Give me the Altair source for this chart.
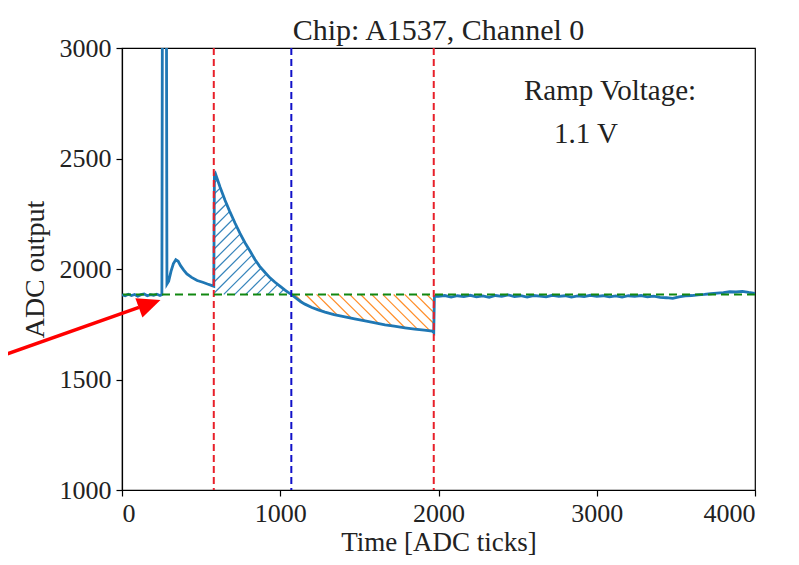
import altair as alt
import numpy as np
import pandas as pd

# ---------------- data ----------------
pre_t = [0, 20, 40, 60, 80, 100, 120, 140, 160, 180, 200, 220, 240, 252]
pre_v = [1883, 1879, 1886, 1880, 1885, 1877, 1884, 1887, 1879, 1884, 1881, 1886, 1880, 1884]

spike_t = [256, 280]
spike_v = [3500, 3500]

bump_t = [284, 295, 310, 325, 340, 355, 370, 390, 410, 440, 475, 510, 540, 565, 580]
bump_v = [1932, 1945, 1990, 2025, 2042, 2035, 2015, 1995, 1978, 1962, 1948, 1940, 1932, 1926, 1922]

decay1_t = [584, 590, 620, 651, 680, 714, 745, 777, 810, 840, 870, 904, 935, 967, 1000, 1030, 1050, 1070]
decay1_v = [2425, 2432, 2370, 2311, 2262, 2208, 2162, 2119, 2080, 2043, 2012, 1984, 1960, 1940, 1921, 1904, 1894, 1885]

decay2_t = [1100, 1130, 1156, 1200, 1240, 1283, 1340, 1409, 1470, 1536, 1600, 1662, 1720, 1788, 1850, 1910, 1960, 1970]
decay2_v = [1868, 1852, 1841, 1826, 1815, 1805, 1794, 1783, 1774, 1765, 1756, 1747, 1741, 1734, 1728, 1723, 1719, 1712]

flat_t = [1974, 2000, 2040, 2080, 2120, 2160, 2200, 2240, 2280, 2320, 2360, 2400, 2440, 2480, 2520,
          2560, 2600, 2640, 2680, 2720, 2760, 2800, 2840, 2880, 2920, 2960, 3000, 3040, 3080, 3120,
          3160, 3200, 3240, 3280, 3320, 3360, 3400, 3440, 3480, 3520, 3560, 3600, 3640, 3680, 3720,
          3760, 3800, 3840, 3880, 3920, 3960, 4000]
flat_v = [1876, 1876, 1880, 1873, 1879, 1875, 1881, 1874, 1878, 1872, 1880, 1876, 1883, 1875, 1879,
          1873, 1880, 1877, 1874, 1881, 1876, 1879, 1873, 1878, 1875, 1881, 1876, 1879, 1874, 1878,
          1873, 1879, 1876, 1880, 1874, 1877, 1872, 1870, 1867, 1874, 1878, 1880, 1883, 1885, 1888,
          1891, 1893, 1897, 1896, 1899, 1894, 1890]

baseline = 1885
markers_red = [580, 1970]
marker_blue = [1070]

title_text = "Chip: A1537, Channel 0"
x_title = "Time [ADC ticks]"
y_title = "ADC output"
x_ticks = [0, 1000, 2000, 3000, 4000]
y_ticks = [1000, 1500, 2000, 2500, 3000]

note_text = ["Ramp Voltage:", "1.1 V"]
note_t = [3084, 2932]
note_v = [2765, 2570]

arrow_shaft_t = [-800, 107]
arrow_shaft_v = [1597, 1826]
arrow_head_t = [175]
arrow_head_v = [1842]

# ---------------- tables ----------------
t = pre_t + spike_t + bump_t + decay1_t + decay2_t + flat_t
v = pre_v + spike_v + bump_v + decay1_v + decay2_v + flat_v
signal = pd.DataFrame({"t": t, "adc": v})

PLOT_W, PLOT_H = 633, 442

# hatch segments derived from the signal
SX = PLOT_W / 4000
SY = PLOT_H / 2000
K = SX / SY
spacing = 11 / SX
ta = np.array(t, float)
va = np.array(v, float)
segs = []

m = (ta >= 584) & (ta <= 1070)
g = np.linspace(584, 1070, 3000)
cg = np.interp(g, ta[m], va[m])
for xb in np.arange(584 - (2440 - baseline) / K, 1070, spacing):
    L = baseline + K * (g - xb)
    mk = (L >= baseline) & (L <= cg)
    if mk.sum() > 1:
        segs.append(dict(x=g[mk][0], y=L[mk][0], x2=g[mk][-1], y2=L[mk][-1], grp="pos"))

m = (ta >= 1070) & (ta <= 1970)
g = np.linspace(1070, 1970, 3000)
cg = np.interp(g, ta[m], va[m])
for xb in np.arange(1070 + spacing * 0.3, 1970, spacing):
    L = baseline - K * (g - xb)
    mk = (L <= baseline) & (L >= cg)
    if mk.sum() > 1:
        segs.append(dict(x=g[mk][0], y=L[mk][0], x2=g[mk][-1], y2=L[mk][-1], grp="neg"))
hatch = pd.DataFrame(segs)

FONT = "Liberation Serif"
xs = alt.Scale(domain=[0, 4000], nice=False, zero=False)
ys = alt.Scale(domain=[1000, 3000], nice=False, zero=False)
xa = alt.Axis(title=x_title, values=x_ticks, format="d", labelPadding=4,
              titleBaseline="alphabetic", titleY=60, titleFontSize=27)
ya = alt.Axis(title=y_title, values=y_ticks, format="d", labelPadding=5, titlePadding=10)

hatch_layer = alt.Chart(hatch).mark_rule(strokeWidth=1.2, opacity=0.9).encode(
    x=alt.X("x:Q", scale=xs, axis=xa),
    y=alt.Y("y:Q", scale=ys, axis=ya),
    x2="x2:Q", y2="y2:Q",
    color=alt.Color("grp:N", scale=alt.Scale(domain=["pos", "neg"], range=["#1f77b4", "#ff7f0e"]), legend=None),
)

line_layer = alt.Chart(signal).mark_line(color="#1f77b4", strokeWidth=2.8, clip=True).encode(
    x=alt.X("t:Q", scale=xs, axis=xa),
    y=alt.Y("adc:Q", scale=ys, axis=ya),
    order="t:Q",
)

red_layer = alt.Chart(pd.DataFrame({"t": markers_red})).mark_rule(
    color="#e8202a", strokeWidth=2, strokeDash=[7, 4]).encode(x=alt.X("t:Q", scale=xs, axis=xa))
blue_layer = alt.Chart(pd.DataFrame({"t": marker_blue})).mark_rule(
    color="#1010c8", strokeWidth=2, strokeDash=[7, 4]).encode(x=alt.X("t:Q", scale=xs, axis=xa))
green_layer = alt.Chart(pd.DataFrame({"b": [baseline]})).mark_rule(
    color="#118811", strokeWidth=2, strokeDash=[8, 5]).encode(y=alt.Y("b:Q", scale=ys, axis=ya))

text_layer = alt.Chart(pd.DataFrame({"t": note_t, "v": note_v, "s": note_text})).mark_text(
    font=FONT, fontSize=29, color="#222222", align="center", baseline="alphabetic").encode(
    x=alt.X("t:Q", scale=xs, axis=xa), y=alt.Y("v:Q", scale=ys, axis=ya), text="s:N")

shaft = pd.DataFrame({"t": [arrow_shaft_t[0]], "v": [arrow_shaft_v[0]],
                      "t2": [arrow_shaft_t[1]], "v2": [arrow_shaft_v[1]]})
arrow_layer = alt.Chart(shaft).mark_rule(color="#ff0000", strokeWidth=3.5).encode(
    x=alt.X("t:Q", scale=xs, axis=xa), y=alt.Y("v:Q", scale=ys, axis=ya), x2="t2:Q", y2="v2:Q")
head_layer = alt.Chart(pd.DataFrame({"t": arrow_head_t, "v": arrow_head_v})).mark_point(
    shape="M 1 0 L -1 0.9 L -1 -0.9 Z", size=529, filled=True, color="#ff0000",
    opacity=1, angle=340).encode(
    x=alt.X("t:Q", scale=xs, axis=xa), y=alt.Y("v:Q", scale=ys, axis=ya))

chart = alt.layer(
    hatch_layer, line_layer, red_layer, blue_layer, green_layer, text_layer, arrow_layer, head_layer
).properties(
    width=PLOT_W, height=PLOT_H,
    title=alt.Title(title_text, font=FONT, fontSize=30, fontWeight="normal", color="#222222", offset=-11),
    autosize=alt.AutoSizeParams(type="none"),
    padding={"left": 114, "top": 40, "right": 30, "bottom": 66},
).configure_view(
    stroke="black", strokeWidth=1.2
).configure_axis(
    grid=False, domainColor="black", tickColor="black", labelColor="#222222", titleColor="#222222",
    labelFont=FONT, titleFont=FONT, labelFontSize=26, titleFontSize=28, titleFontWeight="normal",
    tickSize=6, domainWidth=1.2, tickWidth=1.2,
)

chart.save("out.html", embed_options={"renderer": "svg", "actions": False})
